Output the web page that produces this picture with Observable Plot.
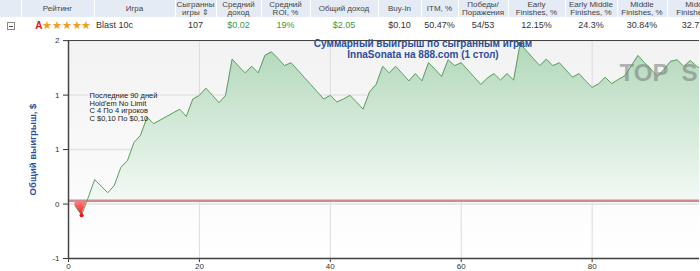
<!DOCTYPE html>
<html><head><meta charset="utf-8">
<script src="https://cdn.jsdelivr.net/npm/d3@7"></script>
<script src="https://cdn.jsdelivr.net/npm/@observablehq/plot@0.6"></script>
<style>
body{margin:0;background:#fff;font-family:"Liberation Sans",Arial,sans-serif;}
#wrap{width:700px;height:271px;overflow:hidden;position:relative}
#hdr{height:36px;width:700px;overflow:hidden;position:relative}
table{border-collapse:collapse;table-layout:fixed;width:727px;color:#333}
th{background:#e5ebf5;font-weight:normal;font-size:8px;height:17px;line-height:8px;padding:0;border-right:1px solid #fff;text-align:center;color:#444;overflow:hidden;white-space:nowrap}
td{height:16px;padding:0;text-align:center;font-size:9px;white-space:nowrap;overflow:hidden}
.g{color:#3a9a3a}
.box{display:inline-block;width:6px;height:6px;border:1px solid #888;position:relative;vertical-align:middle;background:#fff}
.box:after{content:"";position:absolute;left:1px;top:3px;width:4px;height:1px;background:#555}
.st{color:#f0a020;font-size:10.5px;letter-spacing:-0.3px}
.A{color:#d02020;font-weight:bold;font-size:10px}
#chart svg{display:block}
</style></head>
<body>
<div id="wrap">
<div id="hdr"></div>
<div id="chart"></div>
</div>
<script>
// ---- header table data ----
const colWidths = [21,73,81,41,45,49,68,43,37,50,57,52,50,60];
const headerLabels = ["", "Рейтинг", "Игра", "Сыгранны\nигры ⇕", "Средний\nдоход", "Средний\nROI, %", "Общий доход", "Buy-In", "ITM, %", "Победы/\nПоражения", "Early\nFinishes, %", "Early Middle\nFinishes, %", "Middle\nFinishes, %", "Middle\nFinishes, %"];
const rowValues = ["", "", "Blast 10c", "107", "$0.02", "19%", "$2.05", "$0.10", "50.47%", "54/53", "12.15%", "24.3%", "30.84%", "32.71%"];
const greenCols = [4, 5, 6];
const ratingLetter = "A";
const ratingStars = "★★★★★";

// ---- chart data ----
const cumulativeWinnings = [
 -0.07,-0.20,0.04,0.29,0.20,0.11,0.21,0.46,0.55,0.80,
 0.90,1.15,1.06,1.11,1.16,1.21,1.26,1.16,1.40,1.45,
 1.55,1.45,1.35,1.45,1.95,1.85,1.76,1.85,1.76,2.00,
 2.05,1.96,1.86,1.90,1.80,1.70,1.60,1.50,1.40,1.45,
 1.36,1.40,1.45,1.36,1.26,1.50,1.60,1.85,1.76,1.85,
 1.75,1.65,1.75,1.65,1.90,1.81,1.71,1.94,1.86,1.90,
 1.80,1.70,1.60,1.69,1.75,1.66,1.75,1.66,2.16,2.06,
 1.96,1.86,1.95,1.86,1.90,1.80,1.70,1.75,1.65,1.56,
 1.61,1.70,1.61,1.67,1.72,1.86,2.00,1.90,1.81,1.71,
 1.81,1.92,1.94,1.85,1.93,1.85,1.79
];
const xTicks = [0, 20, 40, 60, 80];
const xDomain = [0, 96.4];
const yDomain = [-0.796, 2.206];
const yTickValues = [2.204, 1.454, 0.704, -0.046, -0.796];
const yTickLabels = ["2", "1", "1", "0", "-1"];
const titleLines = ["Суммарный выигрыш по сыгранным играм", "InnaSonata на 888.com (1 стол)"];
const noteLines = ["Последние 90 дней", "Hold'em No Limit", "С 4 По 4 игроков", "С $0,10 По $0,10"];
const yLabel = "Общий выигрыш, $";
const watermark = ["TOP", "S"];

// ---- build header ----
{
  const t = document.createElement("table");
  const cg = document.createElement("colgroup");
  colWidths.forEach(w => { const c = document.createElement("col"); c.style.width = w + "px"; cg.appendChild(c); });
  t.appendChild(cg);
  const tr1 = document.createElement("tr");
  headerLabels.forEach(h => { const th = document.createElement("th"); th.innerHTML = h.split("\n").join("<br>"); tr1.appendChild(th); });
  t.appendChild(tr1);
  const tr2 = document.createElement("tr");
  rowValues.forEach((v, i) => {
    const td = document.createElement("td");
    if (i === 0) { td.innerHTML = '<span class="box"></span>'; }
    else if (i === 1) { td.innerHTML = '<span class="A">' + ratingLetter + '</span><span class="st">' + ratingStars + '</span>'; td.style.textAlign = "right"; td.style.paddingRight = "3px"; }
    else { td.textContent = v; }
    if (i === 2) { td.style.textAlign = "left"; td.style.paddingLeft = "2px"; }
    if (greenCols.includes(i)) td.className = "g";
    tr2.appendChild(td);
  });
  t.appendChild(tr2);
  document.getElementById("hdr").appendChild(t);
}

// ---- chart ----
const data = cumulativeWinnings.map((v, i) => ({game: i + 1, value: v}));
const minPt = data.reduce((a, b) => b.value < a.value ? b : a);
const maxPt = data.reduce((a, b) => b.value > a.value ? b : a);
const yLabelOf = new Map(yTickValues.map((v, i) => [v, yTickLabels[i]]));

const plot = Plot.plot({
  width: 700, height: 235,
  marginTop: 4, marginBottom: 13, marginLeft: 68, marginRight: 1,
  style: {fontFamily: "Liberation Sans, Arial, sans-serif", fontSize: "8px", color: "#333", background: "transparent", overflow: "visible"},
  x: {domain: xDomain, ticks: xTicks, tickFormat: d => String(d), tickSize: 4, tickPadding: 1, label: null},
  y: {domain: yDomain, ticks: yTickValues, tickFormat: d => yLabelOf.get(d), tickSize: 5, tickPadding: 4, label: null},
  marks: [
    Plot.frame({fill: "url(#bgGrad)", stroke: null}),
    Plot.gridX(xTicks, {stroke: "#dcdcdc", strokeOpacity: 1}),
    Plot.gridY(yTickValues, {stroke: "#e3e3e3", strokeOpacity: 1, strokeWidth: 1.5}),
    Plot.areaY(data, {x: "game", y1: 0, y2: "value", fill: "url(#areaGrad)", clip: true}),
    Plot.text([watermark[0]], {frameAnchor: "top-right", dx: -31, dy: 23, text: d => d, textAnchor: "end", fontSize: 24, fontWeight: "bold", fill: "#777", fillOpacity: 0.55}),
    Plot.text([watermark[1]], {frameAnchor: "top-right", dx: -2, dy: 23, text: d => d, textAnchor: "end", fontSize: 24, fontWeight: "bold", fill: "#777", fillOpacity: 0.55}),
    Plot.ruleY([0], {stroke: "#d4878d", strokeWidth: 2.5}),
    Plot.lineY(data, {x: "game", y: "value", stroke: "#5e9f62", strokeWidth: 1, clip: true}),
    Plot.dot([minPt], {x: "game", y: "value", r: 2, fill: "#ee1111", stroke: null}),
    Plot.dot([maxPt], {x: "game", y: "value", r: 2, fill: "#118811", stroke: null}),
    Plot.ruleX([xDomain[0]], {stroke: "#444", strokeWidth: 1.5}),
    Plot.ruleY([yDomain[0]], {stroke: "#444", strokeWidth: 1.5}),
    Plot.ruleY([yDomain[1]], {stroke: "#444", strokeWidth: 1.2}),
    Plot.text([titleLines.join("\n")], {frameAnchor: "top", dx: 39, dy: -1, text: d => d, fontSize: 10, fontWeight: "bold", fill: "#2d4e9e", lineHeight: 1.1}),
    Plot.text([noteLines.join("\n")], {frameAnchor: "top-left", dx: 21, dy: 52, text: d => d, textAnchor: "start", fontSize: 7.5, fill: "#222", lineHeight: 1.03}),
    Plot.text([yLabel], {frameAnchor: "left", dx: -36, text: d => d, rotate: -90, textAnchor: "middle", fontSize: 9.5, fontWeight: "bold", fill: "#2d4e9e"})
  ]
});

// gradients
{
  const y = plot.scale("y");
  const top = y.apply(yDomain[1]), bot = y.apply(yDomain[0]), zero = y.apply(0);
  const svg = d3.select(plot);
  const defs = svg.insert("defs", ":first-child");
  const bg = defs.append("linearGradient").attr("id", "bgGrad").attr("x1", 0).attr("x2", 0).attr("y1", 0).attr("y2", 1);
  bg.append("stop").attr("offset", 0).attr("stop-color", "#f2f2f2");
  bg.append("stop").attr("offset", 1).attr("stop-color", "#ffffff");
  const ag = defs.append("linearGradient").attr("id", "areaGrad").attr("gradientUnits", "userSpaceOnUse")
    .attr("x1", 0).attr("x2", 0).attr("y1", top).attr("y2", bot);
  const off = (zero - top) / (bot - top);
  const redEnd = (zero + 14 - top) / (bot - top);
  ag.append("stop").attr("offset", 0).attr("stop-color", "#b0d7b9");
  ag.append("stop").attr("offset", off).attr("stop-color", "#f3f9f4");
  ag.append("stop").attr("offset", off).attr("stop-color", "#ff8a8a");
  ag.append("stop").attr("offset", redEnd).attr("stop-color", "#ff1a1a");
  ag.append("stop").attr("offset", 1).attr("stop-color", "#ff1a1a");
}
document.getElementById("chart").appendChild(plot);
</script>
</body></html>
